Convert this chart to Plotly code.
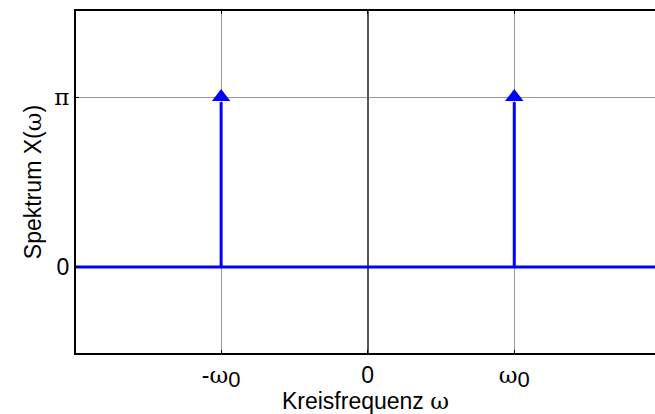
import plotly.graph_objects as go

# Data (x in units of omega_0, y in units of pi)
omega_lines = [-1, 1]          # positions of the Dirac impulses
impulse_height = [1, 1]        # amplitude pi (in units of pi)
baseline_x = [-2, 2]
baseline_y = [0, 0]

x_tickvals = [-1, 0, 1]
W = '<span style="font-family:\'DejaVu Serif\'">ω</span>'
SUB0 = '<sub><span style="font-size:22px">0</span></sub>'
x_ticktext = ['-' + W + SUB0, '0', W + SUB0]
y_tickvals = [0, 1]
y_ticktext = ['0', '<span style="font-family:\'DejaVu Serif\'">π</span>']

blue = '#0000FF'
fig = go.Figure()
fig.add_trace(go.Scatter(x=baseline_x, y=baseline_y, mode='lines',
                         line=dict(color=blue, width=3), showlegend=False, hoverinfo='skip'))
for xv, h in zip(omega_lines, impulse_height):
    fig.add_trace(go.Scatter(x=[xv, xv], y=[0, h * 0.97], mode='lines',
                             line=dict(color=blue, width=3), showlegend=False, hoverinfo='skip'))
fig.add_trace(go.Scatter(x=omega_lines, y=impulse_height, mode='markers',
                         marker=dict(symbol='triangle-up', size=16, color=blue, line=dict(width=0)),
                         showlegend=False, hoverinfo='skip'))

font = dict(family='Liberation Sans, Arial, sans-serif', size=23, color='black')
fig.update_layout(
    width=655, height=414,
    margin=dict(l=76, r=0, t=11, b=61),
    paper_bgcolor='white', plot_bgcolor='white',
    font=font,
    xaxis=dict(range=[-1.99, 1.96], tickvals=x_tickvals, ticktext=x_ticktext,
               showgrid=True, gridcolor='#999999', gridwidth=1,
               zeroline=True, zerolinecolor='#555555', zerolinewidth=2,
               showline=True, linecolor='black', linewidth=2, mirror='ticks',
               ticks='inside', ticklen=3, tickcolor='black',
               title=dict(text='Kreisfrequenz ' + W, standoff=0, font=font),
               tickfont=font),
    yaxis=dict(range=[-0.506, 1.506], tickvals=y_tickvals, ticktext=y_ticktext,
               showgrid=True, gridcolor='#999999', gridwidth=1,
               zeroline=False,
               showline=True, linecolor='black', linewidth=2, mirror=False,
               ticks='inside', ticklen=3, tickcolor='black',
               title=dict(text='Spektrum X(' + W + ')', standoff=6, font=font),
               tickfont=font),
)
fig.write_html('out.html', config={'displayModeBar': False},
               post_script="document.body.style.margin='0';document.body.style.overflow='hidden';")
